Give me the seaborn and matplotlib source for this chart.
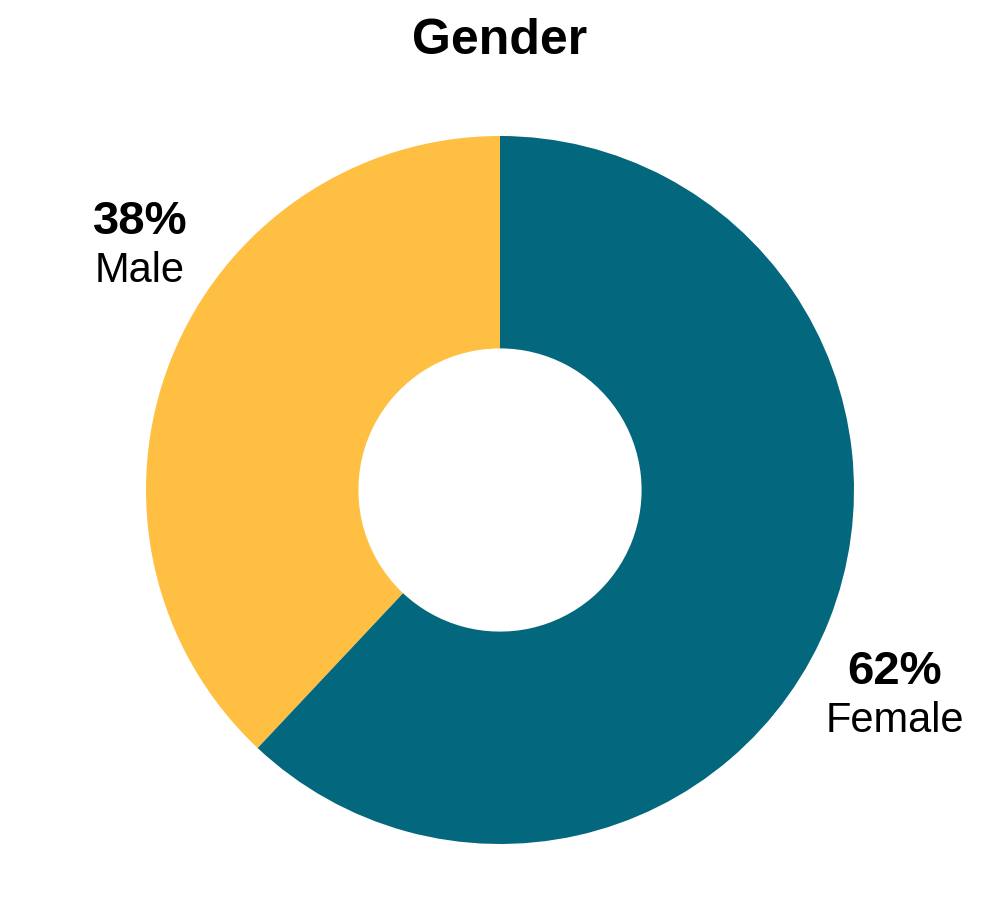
import matplotlib
matplotlib.use("Agg")
import matplotlib.pyplot as plt
import seaborn as sns

categories = ["Male", "Female"]
values = [38, 62]
pct_labels = ["38%", "62%"]
colors = ["#FFBF42", "#03677D"]

sns.set_theme(style="white")
plt.rcParams['font.family'] = ['Liberation Sans', 'DejaVu Sans']

fig = plt.figure(figsize=(10, 9.12), dpi=100)
R = 354
cx, cy = 500, 912 - 491
ax = fig.add_axes([(cx - R) / 1000, (cy - R) / 912, 2 * R / 1000, 2 * R / 912])
ax.pie(values, colors=colors, startangle=90, counterclock=True,
       radius=1, wedgeprops=dict(width=0.6, linewidth=0))
ax.set_xlim(-1, 1)
ax.set_ylim(-1, 1)
ax.set_aspect('equal')
ax.axis('off')

# label positions in figure pixels
pos = {"Male": (140, 222), "Female": (895, 672)}
for cat, pct in zip(categories, pct_labels):
    x, y = pos[cat]
    fig.text(x / 1000, 1 - y / 912, pct, ha='center', va='center',
             fontsize=34, fontweight='bold', color='black')
    fig.text(x / 1000, 1 - (y + 49) / 912, cat, ha='center', va='center',
             fontsize=30, color='black')

fig.text(0.5, 1 - 41 / 912, "Gender", ha='center', va='center',
         fontsize=36, fontweight='bold', color='black')

fig.savefig("out.png", dpi=100, facecolor='white')
